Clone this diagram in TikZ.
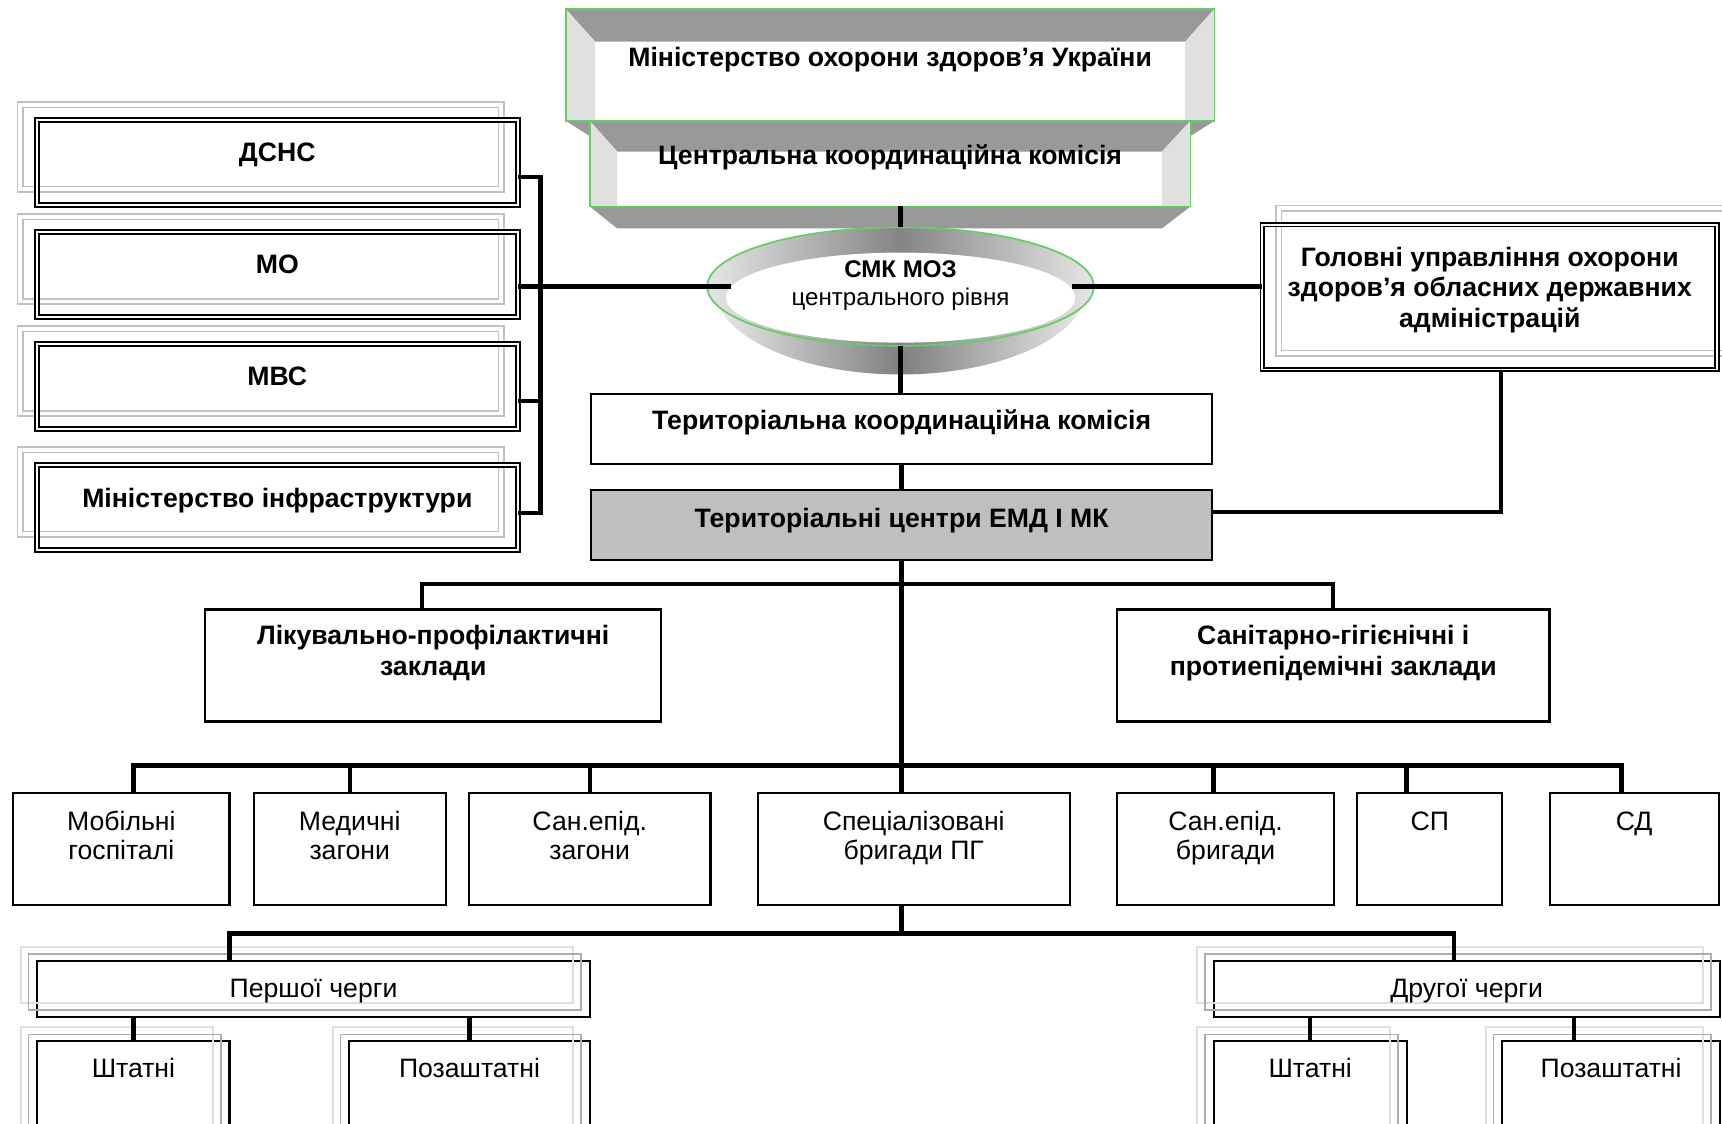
\documentclass[tikz,border=0pt]{standalone}
\usepackage{fontspec}
\setmainfont{Liberation Sans}
\usetikzlibrary{shapes.geometric, positioning}

\definecolor{frame}{RGB}{102,204,102}
\definecolor{bevdark}{RGB}{153,153,153}
\definecolor{bevlight}{RGB}{224,224,224}
\definecolor{ghost}{RGB}{192,192,192}

\begin{document}
\begin{tikzpicture}[
    x=0.02cm, y=-0.02cm,
    every node/.style={align=center},
    conn/.style={line width=2.3pt},
    box/.style={draw, line width=1.1pt, inner sep=0, outer sep=0},
    dbox/.style={draw, line width=1pt, double, double distance=1pt, inner sep=0, outer sep=0},
    gbox/.style={draw=ghost, line width=0.8pt, double, double distance=2pt, inner sep=0, outer sep=0},
    bevel/.style={draw=frame, line width=0.9pt, inner sep=0, outer sep=0},
    ring/.style={ellipse, draw=frame, line width=0.9pt, inner sep=0, outer sep=0},
    lbl/.style={inner sep=0, font=\fontsize{13.8}{15.8}\selectfont\bfseries},
    nlbl/.style={inner sep=0, font=\fontsize{13.8}{14.7}\selectfont},
    ghostA/.style={draw=black!12, line width=0.9pt},
    ghostB/.style={draw=black!32, line width=0.9pt}
]
\useasboundingbox (0,0) rectangle (1568,1023);

% Ministry (bevel box)
\fill[bevdark] (515,110) -- (1106,110) -- (1079,127) -- (542,127) -- cycle;
\fill[white] (515,8) rectangle (1106,110);
\fill[bevdark] (515,8) -- (1106,8) -- (1079,38) -- (542,38) -- cycle;
\fill[bevlight] (515,8) -- (542,38) -- (542,110) -- (515,110) -- cycle;
\fill[bevlight] (1106,8) -- (1079,38) -- (1079,110) -- (1106,110) -- cycle;
\node[bevel, minimum width=11.82cm, minimum height=2.04cm] (moz) at (810.5,59) {};
\node[lbl, below=0.7cm of moz.north] (moz-t) {Міністерство охорони здоров’я України};

% Central commission (bevel box)
\fill[bevdark] (537,188) -- (1084,188) -- (1058,208) -- (562,208) -- cycle;
\fill[white] (537,110) rectangle (1084,188);
\fill[bevdark] (537,110) -- (1084,110) -- (1058,138) -- (562,138) -- cycle;
\fill[bevlight] (537,110) -- (562,138) -- (562,188) -- (537,188) -- cycle;
\fill[bevlight] (1084,110) -- (1058,138) -- (1058,188) -- (1084,188) -- cycle;
\node[bevel, minimum width=10.94cm, minimum height=1.56cm] (ckk) at (810.5,149) {};
\node[lbl, below=0.42cm of ckk.north] (ckk-t) {Центральна координаційна комісія};

% Ring
\begin{scope}
    \clip (600,261) rectangle (1040,360);
    \shade[left color=black!8, right color=black!8, middle color=black!50] (820,261) ellipse [x radius=3.4cm, y radius=1.6cm];
\end{scope}
\node[ring, minimum width=7.04cm, minimum height=2.16cm, left color=black!10, right color=black!10, middle color=black!48] (smk) at (820,261) {};
\fill[white] (820,271) ellipse [x radius=3.18cm, y radius=0.82cm];

% Left agencies
\foreach \n/\y/\t in {dsns/148/ДСНС, mo/250/МО, mvs/352/МВС, minf/462/Міністерство інфраструктури} {
    \node[gbox, minimum width=8.76cm, minimum height=1.54cm] (\n-g) at (237.5,\y-14) {};
    \node[dbox, minimum width=8.76cm, minimum height=1.54cm] (\n) at (252.5,\y) {};
    \node[lbl, below=0.41cm of \n.north] (\n-t) {\t};
}

% Regional health departments
\node[gbox, minimum width=8.28cm, minimum height=2.64cm] (gu-g) at (1371.5,255.5) {};
\node[dbox, minimum width=8.28cm, minimum height=2.64cm] (gu) at (1356.5,270.5) {};
\node[lbl, below=0.4cm of gu.north] (gu-t) {Головні управління охорони\\здоров’я обласних державних\\адміністрацій};

% Territorial level
\node[box, minimum width=11.32cm, minimum height=1.28cm] (tkk) at (821,390.5) {};
\node[lbl, below=0.29cm of tkk.north] (tkk-t) {Територіальна координаційна комісія};
\node[box, fill=black!25, minimum width=11.32cm, minimum height=1.28cm] (tc) at (821,478) {};
\node[lbl, below=0.32cm of tc.north] (tc-t) {Територіальні центри ЕМД І МК};

\node[box, minimum width=8.3cm, minimum height=2.04cm] (lpz) at (394.5,606) {};
\node[lbl, below=0.28cm of lpz.north] (lpz-t) {Лікувально-профілактичні\\заклади};
\node[box, minimum width=7.88cm, minimum height=2.04cm] (sgpz) at (1214,606) {};
\node[lbl, below=0.28cm of sgpz.north] (sgpz-t) {Санітарно-гігієнічні і\\протиепідемічні заклади};

% Formations
\foreach \n/\x/\w/\t in {mob/110.5/3.94/{Мобільні\\госпіталі}, med/318.5/3.5/{Медичні\\загони},
    sez/537/4.4/{Сан.епід.\\загони}, spec/832/5.68/{Спеціалізовані\\бригади ПГ},
    seb/1116/3.96/{Сан.епід.\\бригади}, sp/1302/2.64/СП, sd/1488/3.08/СД} {
    \node[box, minimum width=\w cm, minimum height=2.04cm] (\n) at (\x,773) {};
    \node[nlbl, below=0.33cm of \n.north] (\n-t) {\t};
}

% Brigades
\node[box, minimum width=10.06cm, minimum height=1.02cm] (per) at (285.5,900.5) {};
\node[box, minimum width=9.22cm, minimum height=1.02cm] (dru) at (1335.5,900.5) {};
\node[box, minimum width=3.5cm, minimum height=1.84cm] (sht1) at (121.5,994) {};
\node[box, minimum width=4.38cm, minimum height=1.84cm] (poz1) at (427.5,994) {};
\node[box, minimum width=3.52cm, minimum height=1.84cm] (sht2) at (1193,994) {};
\node[box, minimum width=3.96cm, minimum height=1.84cm] (poz2) at (1467,994) {};
\foreach \n in {per, dru, sht1, poz1, sht2, poz2} {
    \draw[ghostA] ([shift={(-15,-13)}]\n.north west) rectangle ([shift={(-15,-13)}]\n.south east);
    \draw[ghostB] ([shift={(-8,-6)}]\n.north west) rectangle ([shift={(-8,-6)}]\n.south east);
}
\node[nlbl, below=0.33cm of per.north] (per-t) {Першої черги};
\node[nlbl, below=0.33cm of dru.north] (dru-t) {Другої черги};
\node[nlbl, below=0.31cm of sht1.north] (sht1-t) {Штатні};
\node[nlbl, below=0.31cm of poz1.north] (poz1-t) {Позаштатні};
\node[nlbl, below=0.31cm of sht2.north] (sht2-t) {Штатні};
\node[nlbl, below=0.31cm of poz2.north] (poz2-t) {Позаштатні};

% Connectors
\coordinate (b1) at (492,161);
\coordinate (b2) at (492,261);
\coordinate (b3) at (492,365);
\coordinate (b4) at (492,467);
\coordinate (gc) at (1367,466);

\draw[conn] (dsns.east |- b1) -- (b1) -- (b4) -- (minf.east |- b4);
\draw[conn] (mo.east |- b2) -- (b2);
\draw[conn] (mvs.east |- b3) -- (b3);
\draw[conn, shorten >=-0.44cm] (b2) -- (smk.west);
\draw[conn, shorten <=-0.4cm] (smk.east) -- (smk.east -| gu.west);
\draw[conn] (smk.north |- ckk.south) -- (smk.north);
\draw[conn] (smk.south) -- (smk.south |- tkk.north);
\draw[conn] (tkk.south) -- (tc.north);
\draw[conn] (gu.south -| gc) -- (gc) -- (tc.east |- gc);

\draw[conn] (tc.south) -- (tc.south |- spec.north);
\draw[conn] ([xshift=-0.21cm]lpz.north) -- ++(0,-23) -| (sgpz.north);
\draw[conn] ([xshift=0.22cm]mob.north) -- ++(0,-25) -| ([xshift=-0.23cm]sd.north);
\foreach \n/\s in {med/0, sez/0, seb/-0.22, sp/-0.43}
    \draw[conn] ([xshift=\s cm]\n.north) -- ++(0,-25);

\draw[conn] (spec.south -| tc.south) -- ++(0,26);
\draw[conn] ([xshift=-1.53cm]per.north) -- ++(0,-25) -| ([xshift=-0.23cm]dru.north);
\draw[conn] (sht1.north) -- ++(0,-22);
\draw[conn] (poz1.north) -- ++(0,-22);
\draw[conn] (sht2.north) -- ++(0,-22);
\draw[conn] ([xshift=-0.68cm]poz2.north) -- ++(0,-22);

% Ring caption
\node[inner sep=0, below=0.6cm of smk.north, font=\fontsize{12.5}{14.5}\selectfont] (smk-t) {\textbf{СМК МОЗ}\\центрального рівня};

\end{tikzpicture}
\end{document}
